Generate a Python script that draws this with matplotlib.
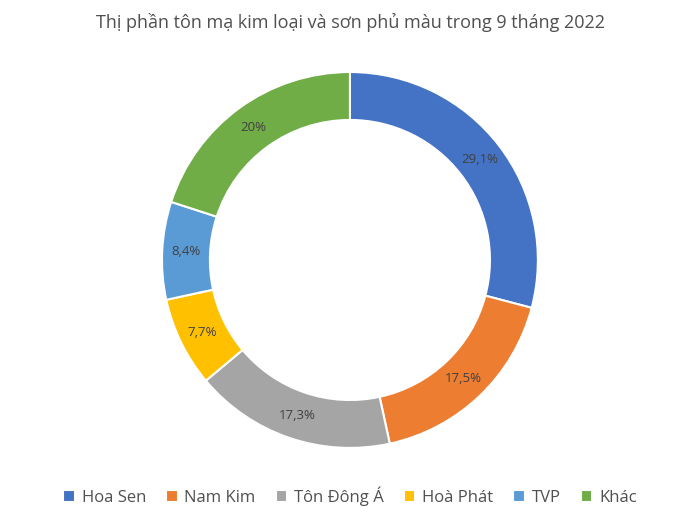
import matplotlib
matplotlib.use("Agg")
import matplotlib.pyplot as plt
import numpy as np

# dữ liệu
labels = ["Hoa Sen", "Nam Kim", "Tôn Đông Á", "Hoà Phát", "TVP", "Khác"]
shares = [29.1, 17.5, 17.3, 7.7, 8.4, 20.0]
share_text = ["29,1%", "17,5%", "17,3%", "7,7%", "8,4%", "20%"]
colors = ["#4472C4", "#ED7D31", "#A5A5A5", "#FFC000", "#5B9BD5", "#70AD47"]

plt.rcParams["font.family"] = ["Open Sans", "DejaVu Sans"]

fig = plt.figure(figsize=(7, 5.21), dpi=100)
ax = fig.add_axes([0.5 - 0.2686, 0.501 - 0.361, 0.537, 0.722])

wedges, texts = ax.pie(
    shares,
    colors=colors,
    startangle=90,
    counterclock=False,
    radius=1.0,
    wedgeprops=dict(width=0.255, edgecolor="white", linewidth=1.5),
)

for w, t in zip(wedges, share_text):
    ang = np.deg2rad((w.theta1 + w.theta2) / 2)
    r = 0.8725
    ax.text(r * np.cos(ang), r * np.sin(ang), t, ha="center", va="center",
            fontsize=9.5, color="#404040")

ax.set_xlim(-1, 1)
ax.set_ylim(-1, 1)
ax.set_aspect("equal")

fig.suptitle("Thị phần tôn mạ kim loại và sơn phủ màu trong 9 tháng 2022",
             y=0.975, fontsize=13, color="#505050")

fig.legend(wedges, labels, loc="lower center", ncol=6, frameon=False,
           bbox_to_anchor=(0.5, 0.0), fontsize=12, handlelength=0.7,
           handleheight=0.7, columnspacing=1.2, handletextpad=0.4,
           labelcolor="#505050")

fig.savefig("out.png", dpi=100)
